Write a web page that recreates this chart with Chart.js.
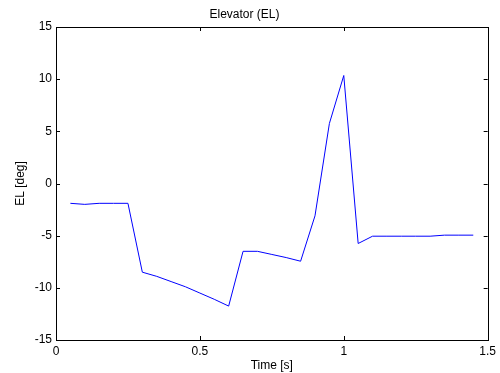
<!DOCTYPE html>
<html lang="en">
<head>
    <meta charset="UTF-8">
    <title>Elevator (EL)</title>
    <script src="https://cdn.jsdelivr.net/npm/chart.js"></script>
    <style>
        html, body { margin: 0; padding: 0; background: #fff; }
        #wrap { width: 500px; height: 373px; }
    </style>
</head>
<body>
    <div id="wrap"><canvas id="elChart"></canvas></div>

    <script>
        // time samples [s] and elevator deflection [deg]
        const timeS = [0.05, 0.10, 0.15, 0.20, 0.25, 0.30, 0.35, 0.40, 0.45, 0.50,
                       0.55, 0.60, 0.65, 0.70, 0.75, 0.80, 0.85, 0.90, 0.95, 1.00,
                       1.05, 1.10, 1.15, 1.20, 1.25, 1.30, 1.35, 1.40, 1.45];
        const elDeg = [-1.9, -2.0, -1.9, -1.9, -1.9, -8.5, -8.9, -9.4, -9.9, -10.5,
                       -11.1, -11.75, -6.5, -6.5, -6.8, -7.1, -7.45, -3.1, 5.75, 10.35,
                       -5.75, -5.05, -5.05, -5.05, -5.05, -5.05, -4.95, -4.95, -4.95];
        const xTicks = [0, 0.5, 1, 1.5];
        const yTicks = [-15, -10, -5, 0, 5, 10, 15];

        const FONT = "'Liberation Sans', Arial, Helvetica, sans-serif";

        // matlab style box with inward ticks on all four sides
        const boxPlugin = {
            id: 'box',
            afterDatasetsDraw(chart) {
                const { ctx, chartArea: a, scales } = chart;
                const len = 4;
                ctx.save();
                ctx.strokeStyle = '#000';
                ctx.lineWidth = 1;
                ctx.beginPath();
                xTicks.forEach(v => {
                    const px = Math.round(scales.x.getPixelForValue(v)) + 0.5;
                    ctx.moveTo(px, a.bottom); ctx.lineTo(px, a.bottom - len);
                    ctx.moveTo(px, a.top); ctx.lineTo(px, a.top + len);
                });
                yTicks.forEach(v => {
                    const py = Math.round(scales.y.getPixelForValue(v)) + 0.5;
                    ctx.moveTo(a.left, py); ctx.lineTo(a.left + len, py);
                    ctx.moveTo(a.right, py); ctx.lineTo(a.right - len, py);
                });
                ctx.stroke();
                ctx.strokeRect(Math.round(a.left) + 0.5, Math.round(a.top) + 0.5,
                               Math.round(a.right - a.left), Math.round(a.bottom - a.top));
                ctx.restore();
            }
        };

        new Chart(document.getElementById('elChart'), {
            type: 'line',
            data: {
                datasets: [{
                    data: timeS.map((t, i) => ({ x: t, y: elDeg[i] })),
                    borderColor: '#0000ff',
                    borderWidth: 1,
                    pointRadius: 0,
                    tension: 0,
                    fill: false
                }]
            },
            options: {
                responsive: true,
                maintainAspectRatio: false,
                animation: false,
                layout: { padding: { left: 0, right: 11, top: 0, bottom: 0 } },
                plugins: {
                    legend: { display: false },
                    tooltip: { enabled: false },
                    title: {
                        display: true,
                        text: 'Elevator (EL)',
                        color: '#000',
                        font: { family: FONT, size: 12, weight: 'normal' },
                        padding: { top: 7, bottom: 5.6 }
                    }
                },
                scales: {
                    x: {
                        type: 'linear',
                        min: 0,
                        max: 1.5,
                        afterBuildTicks: s => { s.ticks = xTicks.map(v => ({ value: v })); },
                        afterFit: s => { s.height = 33; },
                        grid: { display: false, drawTicks: false },
                        border: { display: false },
                        ticks: {
                            color: '#000',
                            padding: 4,
                            maxRotation: 0,
                            font: { family: FONT, size: 12 },
                            callback: v => String(v)
                        },
                        title: {
                            display: true,
                            text: 'Time [s]',
                            color: '#000',
                            font: { family: FONT, size: 12 },
                            padding: { top: 0, bottom: 0 }
                        }
                    },
                    y: {
                        min: -15,
                        max: 15,
                        afterBuildTicks: s => { s.ticks = yTicks.map(v => ({ value: v })); },
                        afterFit: s => { s.width = 56; },
                        grid: { display: false, drawTicks: false },
                        border: { display: false },
                        ticks: {
                            color: '#000',
                            padding: 4,
                            font: { family: FONT, size: 12 },
                            callback: v => String(v)
                        },
                        title: {
                            display: true,
                            text: 'EL [deg]',
                            color: '#000',
                            font: { family: FONT, size: 12 },
                            padding: { top: 13, bottom: 0 }
                        }
                    }
                }
            },
            plugins: [boxPlugin]
        });
    </script>
</body>
</html>
